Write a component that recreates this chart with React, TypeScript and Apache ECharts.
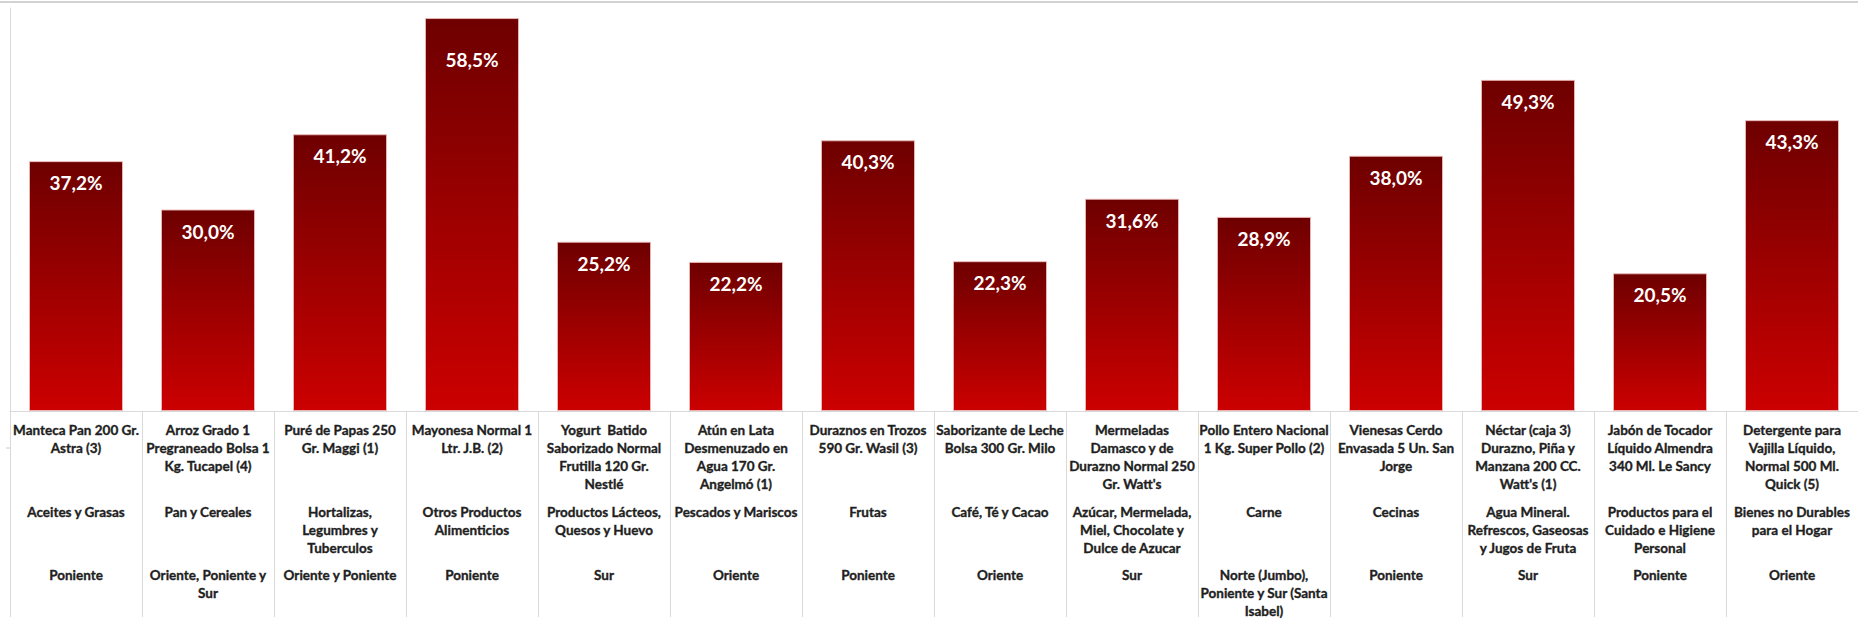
import React, { useEffect, useRef } from "react";
import * as echarts from "echarts";

const productos: string[] = [
  "Manteca Pan 200 Gr.\nAstra (3)",
  "Arroz Grado 1\nPregraneado Bolsa 1\nKg. Tucapel (4)",
  "Puré de Papas 250\nGr. Maggi (1)",
  "Mayonesa Normal 1\nLtr. J.B. (2)",
  "Yogurt  Batido\nSaborizado Normal\nFrutilla 120 Gr.\nNestlé",
  "Atún en Lata\nDesmenuzado en\nAgua 170 Gr.\nAngelmó (1)",
  "Duraznos en Trozos\n590 Gr. Wasil (3)",
  "Saborizante de Leche\nBolsa 300 Gr. Milo",
  "Mermeladas\nDamasco y de\nDurazno Normal 250\nGr. Watt's",
  "Pollo Entero Nacional\n1 Kg. Super Pollo (2)",
  "Vienesas Cerdo\nEnvasada 5 Un. San\nJorge",
  "Néctar (caja 3)\nDurazno, Piña y\nManzana 200 CC.\nWatt's (1)",
  "Jabón de Tocador\nLíquido Almendra\n340 Ml. Le Sancy",
  "Detergente para\nVajilla Líquido,\nNormal 500 Ml.\nQuick (5)",
];

const categorias: string[] = [
  "Aceites y Grasas",
  "Pan y Cereales",
  "Hortalizas,\nLegumbres y\nTuberculos",
  "Otros Productos\nAlimenticios",
  "Productos Lácteos,\nQuesos y Huevo",
  "Pescados y Mariscos",
  "Frutas",
  "Café, Té y Cacao",
  "Azúcar, Mermelada,\nMiel, Chocolate y\nDulce de Azucar",
  "Carne",
  "Cecinas",
  "Agua Mineral.\nRefrescos, Gaseosas\ny Jugos de Fruta",
  "Productos para el\nCuidado e Higiene\nPersonal",
  "Bienes no Durables\npara el Hogar",
];

const zonas: string[] = [
  "Poniente",
  "Oriente, Poniente y\nSur",
  "Oriente y Poniente",
  "Poniente",
  "Sur",
  "Oriente",
  "Poniente",
  "Oriente",
  "Sur",
  "Norte (Jumbo),\nPoniente y Sur (Santa\nIsabel)",
  "Poniente",
  "Sur",
  "Poniente",
  "Oriente",
];

const valores: number[] = [37.2, 30.0, 41.2, 58.5, 25.2, 22.2, 40.3, 22.3, 31.6, 28.9, 38.0, 49.3, 20.5, 43.3];

const FONT = "Lato";
const TEXT_COLOR = "#1f1f1f";
const LINE_COLOR = "#d9d9d9";

export default function App() {
  const ref = useRef<HTMLDivElement>(null);

  useEffect(() => {
    if (!ref.current) return;
    const chart = echarts.init(ref.current, undefined, { renderer: "svg" });

    const labelBase = {
      interval: 0,
      fontFamily: FONT,
      fontWeight: "bold" as const,
      fontSize: 13.5,
      lineHeight: 18,
      color: TEXT_COLOR,
      textBorderColor: TEXT_COLOR,
      textBorderWidth: 0.35,
      align: "center" as const,
      verticalAlign: "top" as const,
    };

    chart.setOption({
      animation: false,
      backgroundColor: "#ffffff",
      grid: { left: 10, right: 0, top: 8, bottom: 206, containLabel: false },
      graphic: [
        {
          type: "line",
          shape: { x1: 0, y1: 2, x2: 1858, y2: 2 },
          style: { stroke: "#a6a6a6", lineWidth: 1.2 },
          silent: true,
        },
        {
          type: "line",
          shape: { x1: 6, y1: 448, x2: 10, y2: 448 },
          style: { stroke: "#cccccc", lineWidth: 1 },
          silent: true,
        },
      ],
      yAxis: {
        type: "value",
        min: 0,
        max: 60,
        axisLine: { show: true, lineStyle: { color: LINE_COLOR, width: 1 } },
        axisTick: { show: false },
        axisLabel: { show: false },
        splitLine: { show: false },
      },
      xAxis: [
        {
          type: "category",
          data: productos,
          position: "bottom",
          boundaryGap: true,
          axisLine: { show: true, lineStyle: { color: LINE_COLOR, width: 1 } },
          axisTick: {
            show: true,
            interval: 0,
            length: 206,
            lineStyle: { color: LINE_COLOR, width: 1 },
          },
          axisLabel: { ...labelBase, margin: 10 },
        },
        {
          type: "category",
          data: categorias,
          position: "bottom",
          offset: 92,
          axisLine: { show: false },
          axisTick: { show: false },
          axisLabel: { ...labelBase, margin: 0 },
        },
        {
          type: "category",
          data: zonas,
          position: "bottom",
          offset: 155,
          axisLine: { show: false },
          axisTick: { show: false },
          axisLabel: { ...labelBase, margin: 0 },
        },
      ],
      series: [
        {
          type: "bar",
          xAxisIndex: 0,
          barWidth: 94,
          data: valores.map((v, i) =>
            i === 3 ? { value: v, label: { distance: 32 } } : v
          ),
          itemStyle: {
            color: new echarts.graphic.LinearGradient(0, 0, 0, 1, [
              { offset: 0, color: "#6e0000" },
              { offset: 1, color: "#cc0000" },
            ]),
            borderColor: "rgba(235,185,185,0.9)",
            borderWidth: 1,
          },
          label: {
            show: true,
            position: "insideTop",
            distance: 12,
            color: "#ffffff",
            fontFamily: FONT,
            fontWeight: "bold",
            fontSize: 19,
            formatter: (p: any) => p.value.toFixed(1).replace(".", ",") + "%",
          },
        },
      ],
    });

    return () => chart.dispose();
  }, []);

  return (
    <div
      ref={ref}
      style={{ position: "fixed", left: 0, top: 0, width: 1858, height: 620, background: "#fff" }}
    />
  );
}
